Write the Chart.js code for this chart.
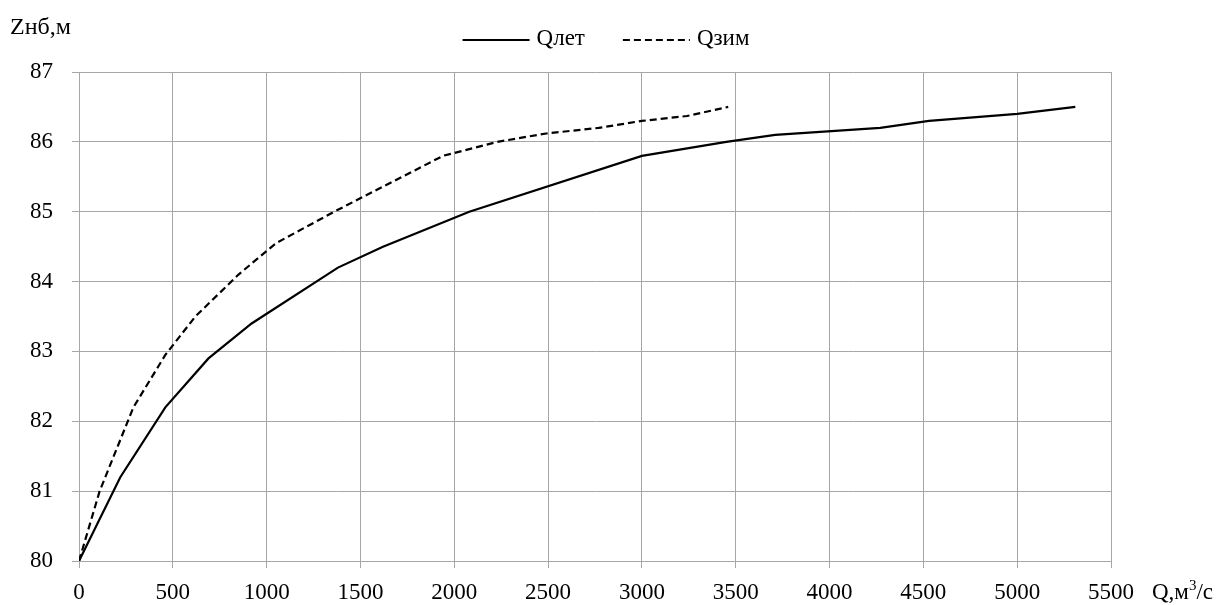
<!DOCTYPE html>
<html>
<head>
<meta charset="utf-8">
<script src="https://cdn.jsdelivr.net/npm/chart.js@4/dist/chart.umd.min.js"></script>
<style>
  html, body { margin: 0; padding: 0; background: #fff; }
  #wrap { width: 1228px; height: 605px; }
</style>
</head>
<body>
<div id="wrap"><canvas id="chart" width="1228" height="605"></canvas></div>
<script>
// Кривая связи расходов и уровней нижнего бьефа
const qLet = [0, 220, 460, 690, 920, 1380, 1620, 2080, 3000, 3450, 3710, 4270, 4530, 5000, 5310];
const zLet = [80, 81.2, 82.2, 82.9, 83.4, 84.2, 84.5, 85.0, 85.8, 86.0, 86.1, 86.2, 86.3, 86.4, 86.5];

const qZim = [0, 110, 290, 460, 620, 850, 1050, 1360, 1940, 2230, 2490, 2770, 3000, 3240, 3460];
const zZim = [80, 81.0, 82.2, 82.95, 83.5, 84.1, 84.55, 85.0, 85.8, 86.0, 86.12, 86.2, 86.3, 86.37, 86.5];

const seriesNames = ["Qлет", "Qзим"];
const xTicks = [0, 500, 1000, 1500, 2000, 2500, 3000, 3500, 4000, 4500, 5000, 5500];
const yTicks = [80, 81, 82, 83, 84, 85, 86, 87];

const FONT = "'Liberation Serif', 'Times New Roman', serif";
const FONT_SIZE = 23;
const GRID = "#a6a6a6";

function toPoints(xs, ys) {
  return xs.map((x, i) => ({ x: x, y: ys[i] }));
}

// легенда над графиком: образец линии + подпись, по центру
const lineLegend = {
  id: "lineLegend",
  afterDraw(chart) {
    const ctx = chart.ctx;
    const sample = 67, gapText = 7, gapItem = 38, y = 40;
    ctx.save();
    ctx.font = FONT_SIZE + "px " + FONT;
    const items = chart.data.datasets.map((ds) => ({
      ds: ds,
      w: sample + gapText + ctx.measureText(ds.label).width
    }));
    const total = items.reduce((s, it) => s + it.w, 0) + gapItem * (items.length - 1);
    let x = chart.width / 2 - total / 2 - 8;
    items.forEach((it) => {
      ctx.strokeStyle = it.ds.borderColor;
      ctx.lineWidth = it.ds.borderWidth;
      ctx.setLineDash(it.ds.borderDash || []);
      ctx.beginPath();
      ctx.moveTo(x, y);
      ctx.lineTo(x + sample, y);
      ctx.stroke();
      ctx.setLineDash([]);
      ctx.fillStyle = "#000";
      ctx.textBaseline = "middle";
      ctx.textAlign = "left";
      ctx.fillText(it.ds.label, x + sample + gapText, y - 1);
      x += it.w + gapItem;
    });
    ctx.restore();
  }
};

// подписи осей: слева сверху и справа от оси X
const axisTitles = {
  id: "axisTitles",
  afterDraw(chart) {
    const ctx = chart.ctx;
    const area = chart.chartArea;
    ctx.save();
    ctx.fillStyle = "#000";
    ctx.textBaseline = "alphabetic";
    ctx.textAlign = "left";
    ctx.font = "24px " + FONT;
    ctx.fillText("Zнб,м", 10, 34);

    // Q,м³/с с надстрочной тройкой
    let x = area.right + 41;
    const base = area.bottom + 38;
    ctx.font = FONT_SIZE + "px " + FONT;
    ctx.fillText("Q,м", x, base);
    x += ctx.measureText("Q,м").width;
    ctx.font = "15px " + FONT;
    ctx.fillText("3", x, base - 9);
    x += ctx.measureText("3").width;
    ctx.font = FONT_SIZE + "px " + FONT;
    ctx.fillText("/с", x, base);
    ctx.restore();
  }
};

const ctx = document.getElementById("chart").getContext("2d");
const chart = new Chart(ctx, {
  type: "line",
  data: {
    datasets: [
      {
        label: seriesNames[0],
        data: toPoints(qLet, zLet),
        borderColor: "#000",
        borderWidth: 2.2,
        pointRadius: 0,
        tension: 0,
        fill: false
      },
      {
        label: seriesNames[1],
        data: toPoints(qZim, zZim),
        borderColor: "#000",
        borderWidth: 2.2,
        borderDash: [7, 4],
        pointRadius: 0,
        tension: 0,
        fill: false
      }
    ]
  },
  options: {
    responsive: false,
    animation: false,
    devicePixelRatio: 1,
    layout: {
      padding: { top: 72, right: 117, bottom: 0, left: 0 }
    },
    plugins: {
      legend: { display: false },
      tooltip: { enabled: false }
    },
    scales: {
      x: {
        type: "linear",
        min: 0,
        max: 5500,
        afterBuildTicks: (scale) => {
          scale.ticks = xTicks.map((v) => ({ value: v }));
        },
        afterFit: (scale) => {
          scale.height = 44;
        },
        grid: { color: GRID, lineWidth: 1, tickLength: 7 },
        border: { color: GRID, width: 1 },
        ticks: {
          color: "#000",
          font: { family: FONT, size: FONT_SIZE },
          padding: 11,
          maxRotation: 0,
          callback: (v) => String(v)
        }
      },
      y: {
        type: "linear",
        min: 80,
        max: 87,
        afterBuildTicks: (scale) => {
          scale.ticks = yTicks.map((v) => ({ value: v }));
        },
        afterFit: (scale) => {
          scale.width = 79;
        },
        grid: { color: GRID, lineWidth: 1, tickLength: 7 },
        border: { color: GRID, width: 1 },
        ticks: {
          color: "#000",
          font: { family: FONT, size: FONT_SIZE },
          padding: 19,
          callback: (v) => String(v)
        }
      }
    }
  },
  plugins: [lineLegend, axisTitles]
});
</script>
</body>
</html>
